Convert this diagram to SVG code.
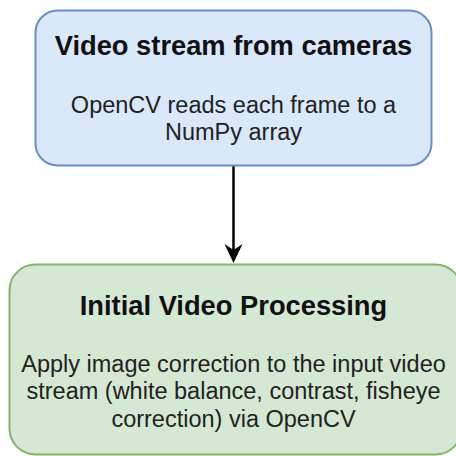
<svg xmlns="http://www.w3.org/2000/svg" width="456" height="456" viewBox="0 0 456 456">
  <style>
    .title { font-family: "Liberation Sans", Arial, sans-serif; font-weight: bold; font-size: 27.3px; fill: #111; text-anchor: middle; }
    .body { font-family: "Liberation Sans", Arial, sans-serif; font-size: 23.5px; fill: #222; text-anchor: middle; }
    .blue { fill: #dae8fc; stroke: #6c8ebf; stroke-width: 2; }
    .green { fill: #d5e8d4; stroke: #82b366; stroke-width: 2; }
  </style>
  <rect width="456" height="456" fill="#fff"/>
  <g id="connectors">
    <line x1="233.5" y1="166" x2="233.5" y2="255" stroke="#000" stroke-width="2.5"/>
    <path d="M224.5,244 L233.5,263 L242.5,244 L233.5,250 Z" fill="#000"/>
  </g>
  <g id="node-video-stream">
    <rect class="blue" x="35.5" y="10.5" width="396" height="155" rx="22" ry="22"/>
    <text class="title" x="233.5" y="55">Video stream from cameras</text>
    <text class="body" x="233.5" y="113">OpenCV reads each frame to a</text>
    <text class="body" x="233.5" y="140">NumPy array</text>
  </g>
  <g id="node-initial-processing">
    <rect class="green" x="9.5" y="264.5" width="452" height="190" rx="26" ry="26"/>
    <text class="title" x="233.5" y="315">Initial Video Processing</text>
    <text class="body" x="233.5" y="372">Apply image correction to the input video</text>
    <text class="body" x="233.5" y="399">stream (white balance, contrast, fisheye</text>
    <text class="body" x="233.5" y="427">correction) via OpenCV</text>
  </g>
</svg>
